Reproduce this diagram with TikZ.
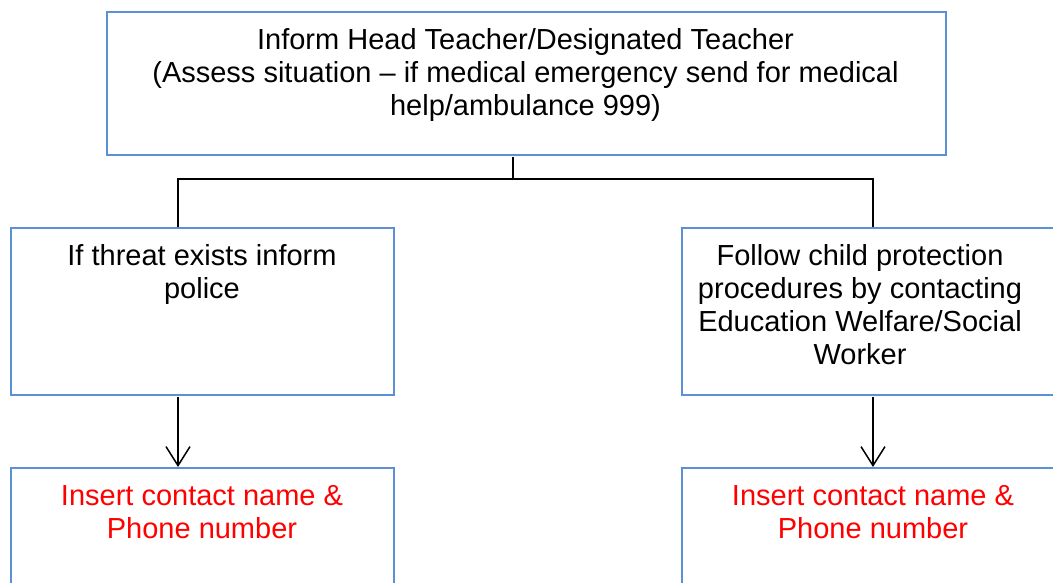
\documentclass[tikz,border=0pt]{standalone}
\usepackage{fontspec}
\setmainfont{Liberation Sans}
\usetikzlibrary{arrows.meta}
\definecolor{boxblue}{RGB}{91,143,214}
\begin{document}
\begin{tikzpicture}[x=1pt,y=-1pt,
  box/.style={draw=boxblue,line width=2pt,inner sep=0pt,anchor=north west},
  txt/.style={font=\fontsize{29}{33}\selectfont,align=center,anchor=base,inner sep=0pt},
  link/.style={draw=black,line width=1.5pt},
  arr/.style={link,-{Straight Barb[length=19pt,width=24pt,line width=1.5pt]}}]
\useasboundingbox (0,0) rectangle (1053,583);
\clip (0,0) rectangle (1053,583);
% boxes
\node[box,minimum width=839pt,minimum height=143pt] (top) at (106,11) {};
\node[box,minimum width=383pt,minimum height=167pt] (left) at (10,227) {};
\node[box,minimum width=383pt,minimum height=167pt] (right) at (681,227) {};
\node[box,minimum width=383pt,minimum height=183pt] (botl) at (10,467) {};
\node[box,minimum width=383pt,minimum height=183pt] (botr) at (681,467) {};
% junction points
\coordinate (jn) at (513,179);
\coordinate (jl) at (178,179);
\coordinate (jr) at (873,179);
% connectors
\draw[link,shorten <=1pt] (jn |- top.south) -- (jn);
\draw[link] (left.north -| jl) -- (jl) -- (jr) -- (right.north -| jr);
\draw[arr,shorten <=1pt] (left.south -| jl) -- (botl.north -| jl);
\draw[arr,shorten <=1pt] (right.south -| jr) -- (botr.north -| jr);
% texts (anchor = baseline of the last line)
\node[txt] (toptext) at (525.5,116) {Inform Head Teacher/Designated Teacher\\(Assess situation – if medical emergency send for medical\\help/ambulance 999)};
\node[txt] (lefttext) at (202,298) {If threat exists inform\\police};
\node[txt] (righttext) at (860,364) {Follow child protection\\procedures by contacting\\Education Welfare/Social\\Worker};
\node[txt,text=red] (bltext) at (202,538) {Insert contact name \&\\Phone number};
\node[txt,text=red] (brtext) at (873,538) {Insert contact name \&\\Phone number};
\end{tikzpicture}
\end{document}
